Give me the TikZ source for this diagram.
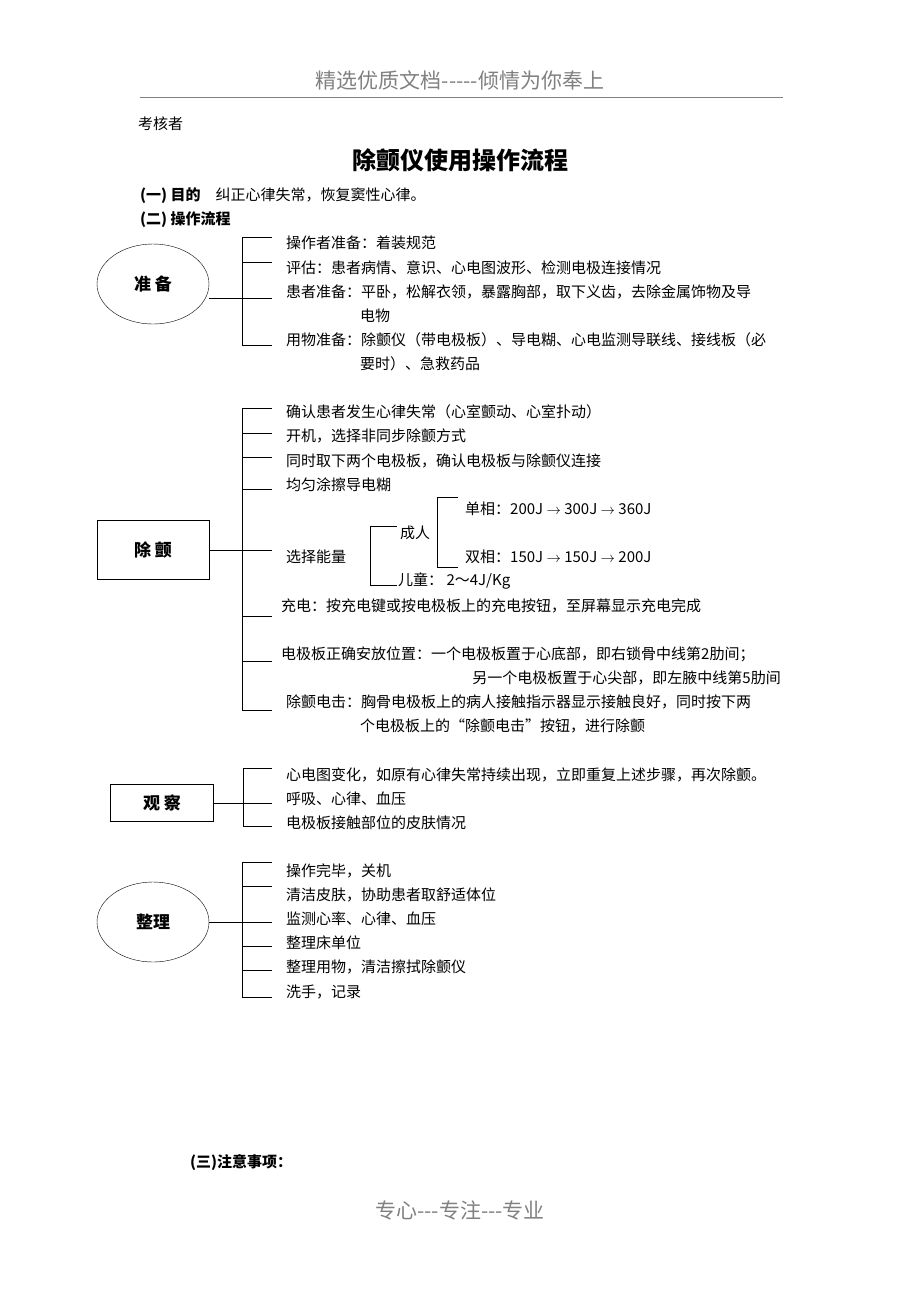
\documentclass[tikz,border=0pt]{standalone}
\usepackage{fontspec}
\setmainfont{Liberation Serif}
\newfontfamily\cjk{Noto Sans CJK SC}
\usetikzlibrary{shapes.geometric}
\tikzset{
	txt/.style={anchor=west,inner sep=0pt,font=\cjk\fontsize{15}{17}\selectfont},
	bold/.style={txt,font=\cjk\bfseries\fontsize{15}{17}\selectfont},
	oval/.style={draw,ellipse,minimum width=112pt,minimum height=80pt,font=\cjk\bfseries\fontsize{17}{19}\selectfont},
	box/.style={draw,rectangle,font=\cjk\bfseries\fontsize{17}{19}\selectfont},
	ln/.style={line width=0.6pt}
}
\begin{document}
\begin{tikzpicture}[x=1pt,y=-1pt]

	% page
	\useasboundingbox (0,0) rectangle (920,1302);

	% header and footer
	\node[font=\cjk\fontsize{21}{23}\selectfont,text=gray] (head) at (460,80) {精选优质文档-----倾情为你奉上};
	\draw[gray,line width=0.4pt] (140,97) -- (783,97);
	\node[font=\cjk\fontsize{21}{23}\selectfont,text=gray] (foot) at (460,1210) {专心---专注---专业};

	% title
	\node[txt] (exam) at (138,124) {考核者};
	\node[font=\cjk\bfseries\fontsize{24}{26}\selectfont] (title) at (460,160) {除颤仪使用操作流程};
	\node[txt] (aim) at (140,196) {\textbf{(一) 目的}\quad 纠正心律失常，恢复窦性心律。};
	\node[bold] (flow) at (140,220) {(二) 操作流程};
	\node[bold] (note) at (190,1163) {(三)注意事项：};

	% ready
	\node[oval] (ready) at (153,284) {准\ 备};
	\draw[ln] (ready.east |- 0,298) -- (242,298);
	\draw[ln] (242,237) -- (242,345);
	\foreach \y in {237,262,298,345} {
		\draw[ln] (242,\y) -- (272,\y);
	}
	\node[txt] (r1) at (286,243) {操作者准备：着装规范};
	\node[txt] (r2) at (286,268) {评估：患者病情、意识、心电图波形、检测电极连接情况};
	\node[txt] (r3) at (286,292) {患者准备：平卧，松解衣领，暴露胸部，取下义齿，去除金属饰物及导};
	\node[txt] (r3b) at (360,316) {电物};
	\node[txt] (r4) at (286,340) {用物准备：除颤仪（带电极板）、导电糊、心电监测导联线、接线板（必};
	\node[txt] (r4b) at (360,364) {要时）、急救药品};

	% defibrillate
	\node[box,minimum width=112pt,minimum height=59pt] (defib) at (153,550) {除\ 颤};
	\draw[ln] (defib.east) -- (242,550);
	\draw[ln] (242,408) -- (242,710);
	\foreach \y in {408,433,457,489,550,616,661,710} {
		\draw[ln] (242,\y) -- (272,\y);
	}
	\node[txt] (d1) at (286,412) {确认患者发生心律失常（心室颤动、心室扑动）};
	\node[txt] (d2) at (286,436) {开机，选择非同步除颤方式};
	\node[txt] (d3) at (286,461) {同时取下两个电极板，确认电极板与除颤仪连接};
	\node[txt] (d4) at (286,485) {均匀涂擦导电糊};
	\node[txt] (d5) at (286,557) {选择能量};
	\node[txt] (d6) at (281,606) {充电：按充电键或按电极板上的充电按钮，至屏幕显示充电完成};
	\node[txt] (d7) at (281,654) {电极板正确安放位置：一个电极板置于心底部，即右锁骨中线第2肋间；};
	\node[txt,anchor=east] (d7b) at (781,678) {另一个电极板置于心尖部，即左腋中线第5肋间};
	\node[txt] (d8) at (286,702) {除颤电击：胸骨电极板上的病人接触指示器显示接触良好，同时按下两};
	\node[txt] (d8b) at (360,726) {个电极板上的“除颤电击”按钮，进行除颤};

	% energy
	\draw[ln] (370,526) -- (397,526);
	\draw[ln] (370,526) -- (370,585) -- (397,585);
	\node[txt] (adult) at (400,533) {成人};
	\node[txt] (child) at (398,581) {儿童：\ 2～4J/Kg};
	\draw[ln] (458,497) -- (437,497) -- (437,567) -- (458,567);
	\node[txt] (mono) at (465,509) {单相：200J $\rightarrow$ 300J $\rightarrow$ 360J};
	\node[txt] (bi) at (465,557) {双相：150J $\rightarrow$ 150J $\rightarrow$ 200J};

	% observe
	\node[box,minimum width=103pt,minimum height=37pt] (obs) at (162,803) {观\ 察};
	\draw[ln] (obs.east) -- (243,803);
	\draw[ln] (243,768) -- (243,826);
	\foreach \y in {768,803,826} {
		\draw[ln] (243,\y) -- (272,\y);
	}
	\node[txt] (o1) at (286,775) {心电图变化，如原有心律失常持续出现，立即重复上述步骤，再次除颤。};
	\node[txt] (o2) at (286,799) {呼吸、心律、血压};
	\node[txt] (o3) at (286,823) {电极板接触部位的皮肤情况};

	% tidy
	\node[oval] (tidy) at (153,922) {整理};
	\draw[ln] (tidy.east) -- (242,922);
	\draw[ln] (242,862) -- (242,997);
	\foreach \y in {862,886,922,946,970,997} {
		\draw[ln] (242,\y) -- (272,\y);
	}
	\node[txt] (t1) at (286,871) {操作完毕，关机};
	\node[txt] (t2) at (286,895) {清洁皮肤，协助患者取舒适体位};
	\node[txt] (t3) at (286,919) {监测心率、心律、血压};
	\node[txt] (t4) at (286,943) {整理床单位};
	\node[txt] (t5) at (286,967) {整理用物，清洁擦拭除颤仪};
	\node[txt] (t6) at (286,992) {洗手，记录};

\end{tikzpicture}
\end{document}
